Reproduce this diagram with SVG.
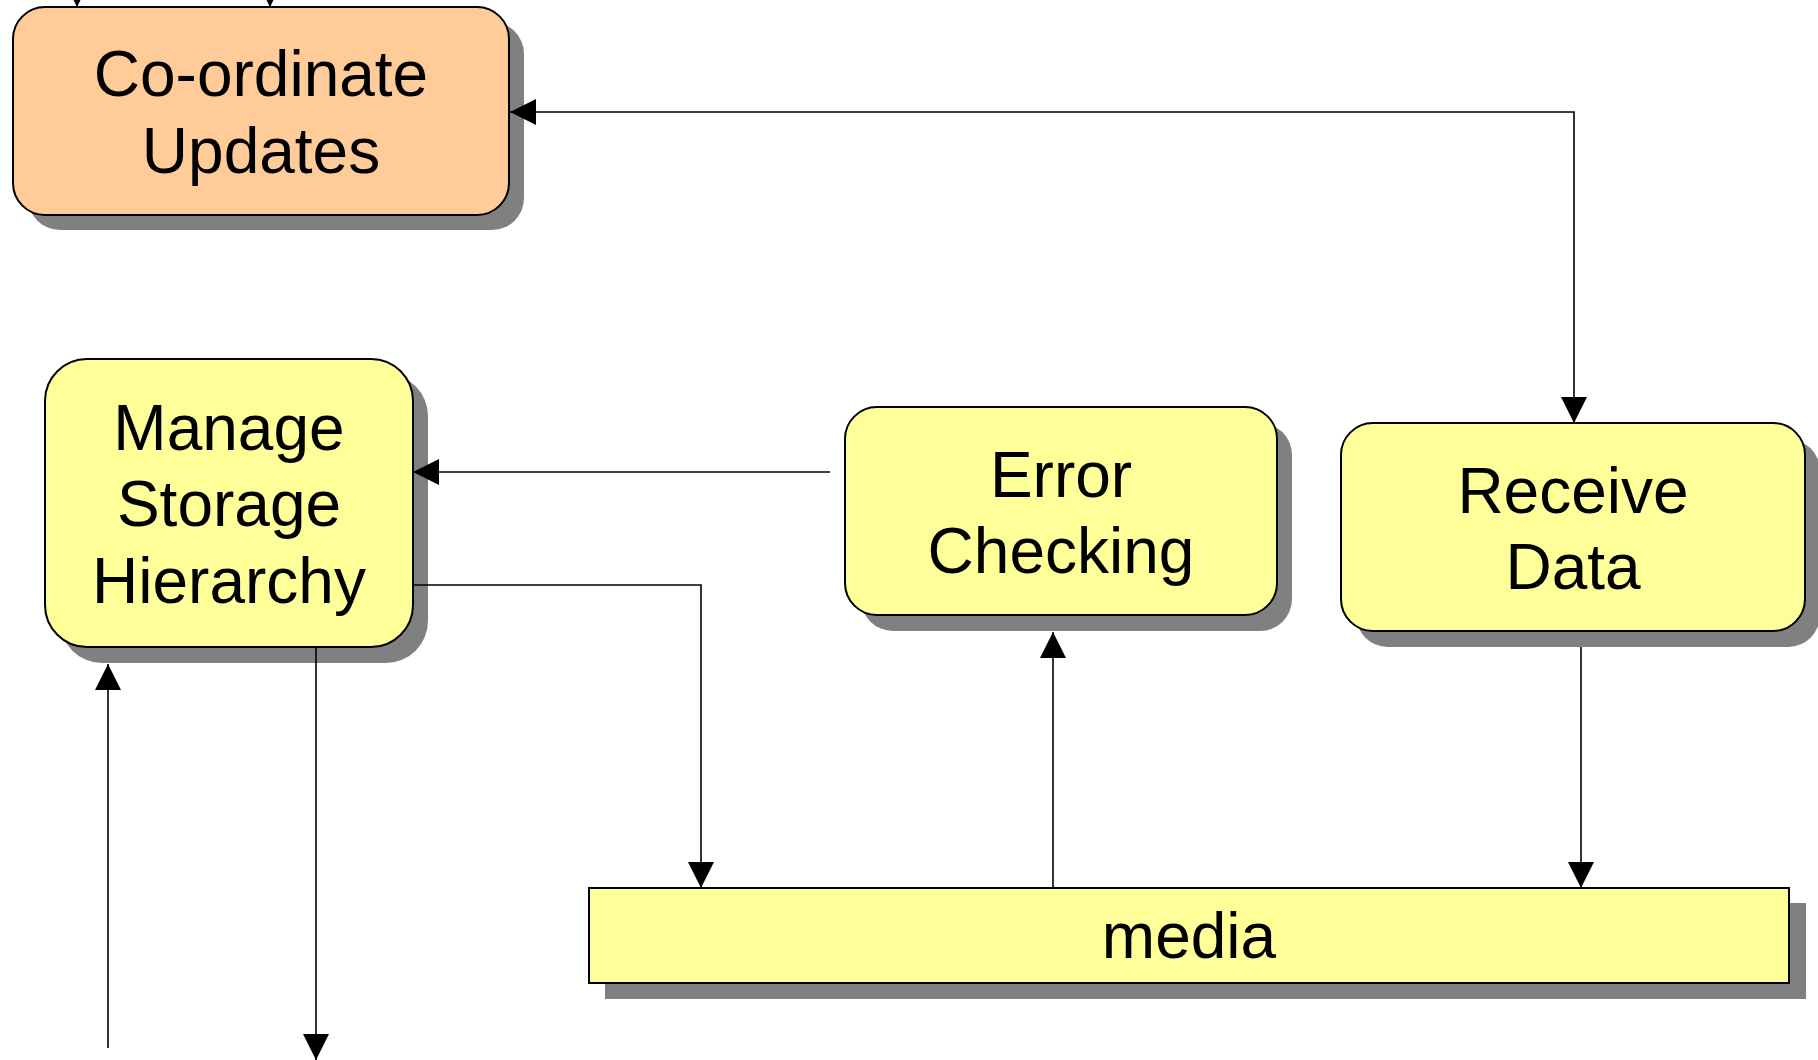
<svg xmlns="http://www.w3.org/2000/svg" width="1818" height="1060" viewBox="0 0 1818 1060">
  <style>
    .shadow { fill: #808080; }
    .box { stroke: #000; stroke-width: 2; }
    .orange { fill: #FFCC99; }
    .yellow { fill: #FFFF99; }
    .label { font-family: "Liberation Sans", Arial, sans-serif; font-size: 64px; fill: #000; text-anchor: middle; }
    .wire { fill: none; stroke: #000; stroke-width: 1.6; }
  </style>
  <defs>
    <marker id="arrow" markerUnits="userSpaceOnUse" markerWidth="26" markerHeight="26" viewBox="0 0 26 26" refX="26" refY="13" orient="auto">
      <path d="M0,0 L26,13 L0,26 z" fill="#000"/>
    </marker>
    <marker id="arrow-start" markerUnits="userSpaceOnUse" markerWidth="26" markerHeight="26" viewBox="0 0 26 26" refX="0" refY="13" orient="auto">
      <path d="M26,0 L0,13 L26,26 z" fill="#000"/>
    </marker>
  </defs>
  <rect width="1818" height="1060" fill="#fff"/>

  <g id="coordinate-updates">
    <rect class="shadow" x="28" y="22" width="496" height="208" rx="32"/>
    <rect class="box orange" x="13" y="7" width="496" height="208" rx="32"/>
    <text class="label" x="261" y="96">Co-ordinate</text>
    <text class="label" x="261" y="173">Updates</text>
  </g>

  <g id="manage-storage-hierarchy">
    <rect class="shadow" x="60" y="374" width="368" height="289" rx="42"/>
    <rect class="box yellow" x="45" y="359" width="368" height="288" rx="42"/>
    <text class="label" x="229" y="450">Manage</text>
    <text class="label" x="229" y="526">Storage</text>
    <text class="label" x="229" y="603">Hierarchy</text>
  </g>

  <g id="error-checking">
    <rect class="shadow" x="861" y="423" width="431" height="208" rx="32"/>
    <rect class="box yellow" x="845" y="407" width="432" height="208" rx="32"/>
    <text class="label" x="1061" y="497">Error</text>
    <text class="label" x="1061" y="573">Checking</text>
  </g>

  <g id="receive-data">
    <rect class="shadow" x="1356" y="439" width="464" height="208" rx="32"/>
    <rect class="box yellow" x="1341" y="423" width="464" height="208" rx="32"/>
    <text class="label" x="1573" y="513">Receive</text>
    <text class="label" x="1573" y="589">Data</text>
  </g>

  <g id="media">
    <rect class="shadow" x="605" y="903" width="1201" height="96"/>
    <rect class="box yellow" x="589" y="888" width="1200" height="95"/>
    <text class="label" x="1189" y="958">media</text>
  </g>

  <!-- connectors, drawn over the node shadows -->
  <g id="connectors">
    <path class="wire" d="M77,-30 V7" marker-end="url(#arrow)"/>
    <path class="wire" d="M270,-30 V7" marker-end="url(#arrow)"/>
    <path class="wire" d="M510,112 H1574 V423" marker-start="url(#arrow-start)" marker-end="url(#arrow)"/>
    <path class="wire" d="M830,472 H413" marker-end="url(#arrow)"/>
    <path class="wire" d="M413,585 H701 V888" marker-end="url(#arrow)"/>
    <path class="wire" d="M1053,888 V632" marker-end="url(#arrow)"/>
    <path class="wire" d="M1581,647 V888" marker-end="url(#arrow)"/>
    <path class="wire" d="M316,647 V1060" marker-end="url(#arrow)"/>
    <path class="wire" d="M108,1048 V664" marker-end="url(#arrow)"/>
  </g>
</svg>
